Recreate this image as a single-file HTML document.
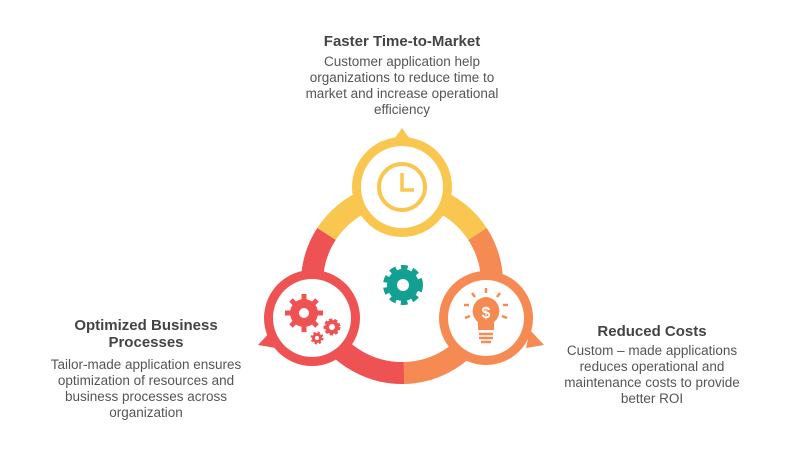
<!DOCTYPE html>
<html><head><meta charset="utf-8"><style>
body{margin:0;background:#fff;width:800px;height:456px;overflow:hidden;font-family:"Liberation Sans",sans-serif}
.t{position:absolute;text-align:center;color:#555;font-size:13.5px;line-height:16px;white-space:nowrap}
.t b{display:block;color:#444;font-size:15px;line-height:17px;margin-bottom:4px}
</style></head><body>
<svg width="800" height="456" style="position:absolute;left:0;top:0">
<g fill="none" stroke-width="22">
<path d="M326.5 234 A90 90 0 0 1 477.5 234" stroke="#F9C74F"/>
<path d="M477.5 234 A90 90 0 0 1 404 373" stroke="#F58A52"/>
<path d="M404 373 A90 90 0 0 1 326.5 234" stroke="#EE5253"/>
</g>
<polygon points="402,128 392,142 412,142" fill="#F9C74F"/>
<polygon points="258,345 272,330 276,348" fill="#EE5253"/>
<polygon points="544,345 530,330 526,348" fill="#F58A52"/>
<circle cx="402" cy="187" r="50" fill="#F9C74F"/>
<circle cx="402" cy="187" r="41" fill="#fff"/>
<circle cx="402" cy="187" r="23" fill="none" stroke="#F9C74F" stroke-width="4"/>
<path d="M402 173 V190 H414" fill="none" stroke="#F9C74F" stroke-width="3.5"/>
<circle cx="312" cy="318" r="48" fill="#EE5253"/>
<circle cx="312" cy="318" r="39" fill="#fff"/>
<circle cx="304" cy="313" r="14" fill="#EE5253"/>
<g stroke="#EE5253" stroke-width="5"><path d="M304 294V332M285 313H323M291 300L317 326M317 300L291 326"/></g>
<circle cx="304" cy="313" r="5" fill="#fff"/>
<circle cx="332" cy="327" r="7" fill="#EE5253" stroke="#EE5253" stroke-width="3" stroke-dasharray="3 2"/>
<circle cx="332" cy="327" r="3" fill="#fff"/>
<circle cx="317" cy="338" r="5" fill="#EE5253" stroke="#EE5253" stroke-width="3" stroke-dasharray="2 2"/>
<circle cx="317" cy="338" r="2" fill="#fff"/>
<circle cx="486" cy="318" r="47" fill="#F58A52"/>
<circle cx="486" cy="318" r="38" fill="#fff"/>
<path d="M486 297 a14 14 0 0 1 8 25 v8 h-16 v-8 a14 14 0 0 1 8 -25z" fill="#F58A52"/>
<g stroke="#F58A52" stroke-width="2.5"><path d="M479 334h14M479 338h14M481 342h10"/>
<path d="M486 288v5M472 293l3 4M500 293l-3 4M464 305h5M503 305h5M465 318l5-2M507 318l-5-2"/></g>
<text x="486" y="318" font-size="16" font-weight="bold" fill="#fff" text-anchor="middle" font-family="Liberation Sans">$</text>
<circle cx="403" cy="285" r="16" fill="#13A092" stroke="#13A092" stroke-width="8" stroke-dasharray="6 4.5"/>
<circle cx="403" cy="285" r="6" fill="#fff"/>
</svg>
<div class="t" style="left:252px;top:33px;width:300px"><b>Faster Time-to-Market</b>Customer application help<br>organizations to reduce time to<br>market and increase operational<br>efficiency</div>
<div class="t" style="left:26px;top:317px;width:240px"><b style="margin-bottom:6px">Optimized Business<br>Processes</b>Tailor-made application ensures<br>optimization of resources and<br>business processes across<br>organization</div>
<div class="t" style="left:532px;top:323px;width:240px"><b style="margin-bottom:3px">Reduced Costs</b>Custom – made applications<br>reduces operational and<br>maintenance costs to provide<br>better ROI</div>
</body></html>
